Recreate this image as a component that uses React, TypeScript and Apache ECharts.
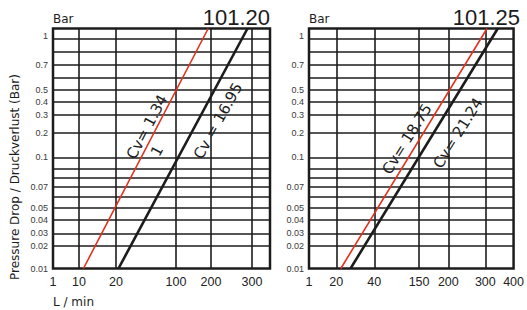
import React, { useEffect, useRef } from "react";
import * as echarts from "echarts";

// Pressure scale (Bar) of both charts: value -> position along the axis (axis units)
const pressureScale = [0.01, 0.02, 0.03, 0.04, 0.05, 0.06, 0.07, 0.08, 0.09, 0.1, 0.2, 0.3, 0.4, 0.5, 0.6, 0.7, 0.8, 0.9, 1];
const pressureScalePos = [0, 22.8, 35.2, 48.5, 60.5, 71.8, 81.8, 90.8, 100.2, 111.2, 136, 154, 166.8, 179, 191.2, 203.5, 216.8, 229.5, 240];
const pressureTickLabels = ["0.01", "0.02", "0.03", "0.04", "0.05", "0.07", "0.1", "0.2", "0.3", "0.4", "0.5", "0.7", "1"];

// Flow scale (L / min) of 101.20
const flowTicks20 = [1, 10, 20, 100, 200, 300];
const flowTicks20Pos = [0, 26, 63, 123, 158, 199];
const flowAxisEnd20 = 217;

// Flow scale (L / min) of 101.25
const flowTicks25 = [1, 20, 40, 150, 200, 300, 400];
const flowTicks25Pos = [0, 28, 67, 113, 143, 181, 210];
const flowAxisEnd25 = 210;

// Characteristic lines: flow at pressure 0.01 and at 1 Bar
const pressureEnds = [0.01, 1];
const flow20Cv134 = [11.2, 192];
const flow20Cv1695 = [23.3, 289];
const flow25Cv1875 = [22.4, 306];
const flow25Cv2124 = [27.5, 344];

const RED = "#e2311d";
const INK = "#1c1c1c";

function toPos(v: number, vals: number[], pos: number[]): number {
  for (let i = 0; i < vals.length - 1; i++) {
    if (v <= vals[i + 1] || i === vals.length - 2) {
      const t = (v - vals[i]) / (vals[i + 1] - vals[i]);
      return pos[i] + t * (pos[i + 1] - pos[i]);
    }
  }
  return pos[0];
}

const yPos = (v: number) => toPos(v, pressureScale, pressureScalePos);
const yLabelPos = pressureTickLabels.map((l) => (l === "1" ? yPos(1) - 7.2 : yPos(parseFloat(l))));
const yGridPos = pressureScalePos.slice(1, -1);

function lookup(positions: number[], labels: string[]) {
  return (val: number) => {
    const i = positions.findIndex((p) => Math.abs(p - val) < 0.01);
    return i >= 0 ? labels[i] : "";
  };
}

function lineData(flows: number[], ticks: number[], tickPos: number[]) {
  return flows.map((f, i) => [toPos(f, ticks, tickPos), yPos(pressureEnds[i])]);
}

export default function App() {
  const ref = useRef<HTMLDivElement>(null);
  useEffect(() => {
    if (!ref.current) return;
    const chart = echarts.init(ref.current, undefined, { renderer: "svg" });

    const gridCommon = {
      top: 28.5,
      height: 240,
      show: true,
      borderColor: INK,
      borderWidth: 2.5,
      backgroundColor: "transparent",
    };

    const yAxisFor = (gridIndex: number) => ({
      type: "value",
      gridIndex,
      min: 0,
      max: 240,
      axisLine: { show: false },
      axisTick: { show: false, customValues: yGridPos },
      splitLine: { show: true, lineStyle: { color: INK, width: 1.6 } },
      axisLabel: {
        customValues: yLabelPos,
        formatter: lookup(yLabelPos, pressureTickLabels),
        fontFamily: "Liberation Sans",
        fontSize: 9,
        color: "#3a3a3a",
        margin: 5,
      },
    });

    const xAxisFor = (gridIndex: number, ticks: number[], pos: number[], end: number) => ({
      type: "value",
      gridIndex,
      min: 0,
      max: end,
      axisLine: { show: false },
      axisTick: { show: false, customValues: pos.filter((p) => p > 0 && p < end) },
      splitLine: { show: true, lineStyle: { color: INK, width: 1.6 } },
      axisLabel: {
        customValues: pos,
        formatter: lookup(pos, ticks.map(String)),
        fontFamily: "Liberation Sans",
        fontSize: 12.5,
        color: "#222",
        margin: 7,
        showMinLabel: true,
        showMaxLabel: true,
      },
    });

    const lineSeries = (idx: number, data: number[][], color: string, width: number) => ({
      type: "line",
      xAxisIndex: idx,
      yAxisIndex: idx,
      data,
      symbol: "none",
      silent: true,
      clip: true,
      lineStyle: { color, width },
      z: 5,
    });

    const txt = (text: string, x: number, y: number, extra: any = {}) => ({
      type: "text",
      x,
      y,
      z: 10,
      silent: true,
      style: {
        text,
        fill: INK,
        fontFamily: "DejaVu Sans",
        fontSize: 12,
        align: "left",
        verticalAlign: "middle",
        ...extra.style,
      },
      ...(extra.rotation !== undefined ? { rotation: extra.rotation } : {}),
    });

    const deg = (d: number) => (d * Math.PI) / 180;

    chart.setOption({
      animation: false,
      grid: [
        { ...gridCommon, left: 53, width: 217 },
        { ...gridCommon, left: 309, width: 210 },
      ],
      xAxis: [
        xAxisFor(0, flowTicks20, flowTicks20Pos, flowAxisEnd20),
        xAxisFor(1, flowTicks25, flowTicks25Pos, flowAxisEnd25),
      ],
      yAxis: [yAxisFor(0), yAxisFor(1)],
      series: [
        lineSeries(0, lineData(flow20Cv134, flowTicks20, flowTicks20Pos), RED, 1.6),
        lineSeries(0, lineData(flow20Cv1695, flowTicks20, flowTicks20Pos), INK, 2.6),
        lineSeries(1, lineData(flow25Cv1875, flowTicks25, flowTicks25Pos), RED, 1.6),
        lineSeries(1, lineData(flow25Cv2124, flowTicks25, flowTicks25Pos), INK, 2.6),
      ],
      graphic: [
        txt("101.20", 270, 17, { style: { fontFamily: "Liberation Sans", fontSize: 22, align: "right" } }),
        txt("101.25", 520, 17, { style: { fontFamily: "Liberation Sans", fontSize: 22, align: "right" } }),
        txt("Bar", 53, 19, { style: { fontSize: 12 } }),
        txt("Bar", 309, 19, { style: { fontSize: 12 } }),
        txt("L / min", 53, 302, { style: { fontSize: 12 } }),
        txt("Pressure Drop / Druckverlust (Bar)", 15, 177, {
          rotation: Math.PI / 2,
          style: { fontSize: 12, align: "center" },
        }),
        txt("Cv= 1.34", 147, 127, { rotation: deg(62), style: { fontSize: 15, align: "center" } }),
        txt("1", 157, 151, { rotation: deg(62), style: { fontSize: 15, align: "center" } }),
        txt("Cv = 16.95", 218, 121, { rotation: deg(61), style: { fontSize: 15, align: "center" } }),
        txt("Cv= 18.75", 407, 139, { rotation: deg(58), style: { fontSize: 15, align: "center" } }),
        txt("Cv= 21.24", 458, 133, { rotation: deg(58), style: { fontSize: 15, align: "center" } }),
      ],
    });
    return () => chart.dispose();
  }, []);

  return (
    <div
      ref={ref}
      style={{ position: "absolute", left: 0, top: 0, width: 527, height: 310, background: "#fff" }}
    />
  );
}
